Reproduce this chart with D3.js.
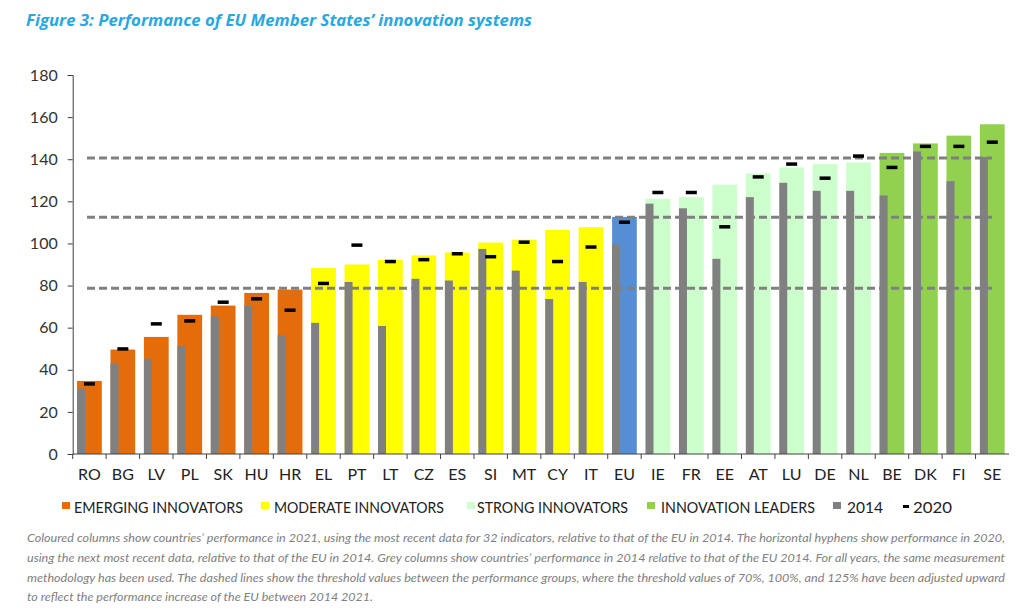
<!DOCTYPE html>
<html>
<head>
<meta charset="utf-8">
<script src="https://cdn.jsdelivr.net/npm/d3@7"></script>
<style>
  body { margin: 0; background: #fff; }
  svg { display: block; }
</style>
</head>
<body>
<div id="chart"></div>
<script>
// values (index, EU 2014 = 100)
const countries = ["RO","BG","LV","PL","SK","HU","HR","EL","PT","LT","CZ","ES","SI","MT","CY","IT","EU","IE","FR","EE","AT","LU","DE","NL","BE","DK","FI","SE"];
const groups = ["E","E","E","E","E","E","E","M","M","M","M","M","M","M","M","M","EU","S","S","S","S","S","S","S","L","L","L","L"];
const perf2021 = [34.7,49.6,55.6,66.1,70.5,76.5,78.1,88.3,90.0,92.2,94.3,95.7,100.4,101.8,106.4,107.7,112.6,121.2,122.0,127.9,133.2,136.1,137.7,138.5,143.0,147.5,151.2,156.6];
const perf2014 = [31.1,43.0,45.3,51.2,65.4,70.5,56.4,62.3,81.7,60.8,83.2,82.4,97.4,87.1,73.6,81.7,99.5,118.9,116.7,92.7,122.0,128.8,125.0,125.0,122.8,143.7,129.6,141.0];
const perf2020 = [33.3,49.9,61.8,63.2,72.1,73.7,68.3,81.0,99.2,91.4,92.3,95.1,93.7,100.6,91.4,98.3,110.1,124.2,124.2,107.9,131.6,137.7,131.0,141.5,136.1,146.1,146.1,148.1];
const thresholds = [78.75, 112.5, 140.6];
const yTicks = [0,20,40,60,80,100,120,140,160,180];

const groupColors = { E: "#E46C0A", M: "#FFFF00", S: "#CCFFCC", L: "#92D050", EU: "#558ED5" };
const legendLabels = ["EMERGING INNOVATORS","MODERATE INNOVATORS","STRONG INNOVATORS","INNOVATION LEADERS","2014","2020"];
const legendKeys = ["E","M","S","L","g","h"];

const title = "Figure 3: Performance of EU Member States\u2019 innovation systems";
const note = [
  "Coloured columns show countries\u2019 performance in 2021, using the most recent data for 32 indicators, relative to that of the EU in 2014. The horizontal hyphens show performance in 2020,",
  "using the next most recent data, relative to that of the EU in 2014. Grey columns show countries\u2019 performance in 2014 relative to that of the EU 2014. For all years, the same measurement",
  "methodology has been used. The dashed lines show the threshold values between the performance groups, where the threshold values of 70%, 100%, and 125% have been adjusted upward",
  "to reflect the performance increase of the EU between 2014 2021."
];

const W = 1024, H = 611;
const svg = d3.select("#chart").append("svg").attr("width", W).attr("height", H);

// title
svg.append("text")
  .attr("x", 26).attr("y", 26)
  .attr("textLength", 506).attr("lengthAdjust", "spacingAndGlyphs")
  .style("font-family", "'Open Sans', 'Noto Sans', sans-serif")
  .style("font-weight", "bold").style("font-style", "italic")
  .style("font-size", "16px").style("fill", "#2AA7E0")
  .text(title);

const x = d3.scaleBand().domain(countries).range([72.7, 1009]).padding(0);
const y = d3.scaleLinear().domain([0, 180]).range([454, 75]);

const barW = x.bandwidth() * 0.74;
const greyW = 8;
const dashW = 11;

// y axis
const yAxis = svg.append("g")
  .attr("transform", "translate(72.7,0)")
  .call(d3.axisLeft(y).tickValues(yTicks).tickSize(5).tickPadding(10));
yAxis.select(".domain").attr("stroke", "#404040");
yAxis.selectAll(".tick line").attr("stroke", "#404040");
yAxis.selectAll("text")
  .style("font-family", "Lato, 'Open Sans', sans-serif")
  .style("font-size", "16px").style("fill", "#333");

// coloured columns (2021)
const bx = d => x(d) + (x.bandwidth() - barW) / 2;
svg.append("g").selectAll("rect")
  .data(countries)
  .join("rect")
  .attr("x", d => bx(d))
  .attr("width", barW)
  .attr("y", (d, i) => y(perf2021[i]))
  .attr("height", (d, i) => y(0) - y(perf2021[i]))
  .attr("fill", (d, i) => groupColors[groups[i]]);

// grey columns (2014)
svg.append("g").selectAll("rect")
  .data(countries)
  .join("rect")
  .attr("x", d => bx(d))
  .attr("width", greyW)
  .attr("y", (d, i) => y(perf2014[i]))
  .attr("height", (d, i) => y(0) - y(perf2014[i]))
  .attr("fill", "#808080");

// threshold lines
svg.append("g").selectAll("line")
  .data(thresholds)
  .join("line")
  .attr("x1", 87).attr("x2", 992)
  .attr("y1", d => y(d)).attr("y2", d => y(d))
  .attr("stroke", "#808080").attr("stroke-width", 3)
  .attr("stroke-dasharray", "8,4");

// hyphens (2020)
svg.append("g").selectAll("rect")
  .data(countries)
  .join("rect")
  .attr("x", d => x(d) + x.bandwidth() / 2 - dashW / 2)
  .attr("width", dashW)
  .attr("y", (d, i) => y(perf2020[i]) - 1.75)
  .attr("height", 3.5)
  .attr("fill", "#000");

// x axis
const xg = svg.append("g");
xg.append("line")
  .attr("x1", 72.7).attr("x2", 1009)
  .attr("y1", y(0)).attr("y2", y(0))
  .attr("stroke", "#404040");
xg.selectAll(".tk")
  .data(countries)
  .join("line")
  .attr("class", "tk")
  .attr("x1", d => x(d)).attr("x2", d => x(d))
  .attr("y1", y(0)).attr("y2", y(0) + 5)
  .attr("stroke", "#404040");
xg.selectAll("text")
  .data(countries)
  .join("text")
  .attr("x", d => x(d) + x.bandwidth() / 2)
  .attr("y", 480)
  .attr("text-anchor", "middle")
  .style("font-family", "Lato, 'Open Sans', sans-serif")
  .style("font-size", "16px").style("fill", "#222")
  .text(d => d);

// legend
const legX = [62, 261, 467, 647, 833, 903];
const legTextX = [74, 274, 477, 661, 847, 913];
const legTextW = [169, 170, 151, 154, 36, 39];
const lg = svg.append("g");
legendKeys.forEach((k, i) => {
  if (k === "h") {
    lg.append("rect").attr("x", legX[i]).attr("y", 505).attr("width", 6).attr("height", 3).attr("fill", "#000");
  } else {
    lg.append("rect").attr("x", legX[i]).attr("y", 502).attr("width", 8).attr("height", 7)
      .attr("fill", k === "g" ? "#808080" : groupColors[k]);
  }
  lg.append("text")
    .attr("x", legTextX[i]).attr("y", 513)
    .attr("textLength", legTextW[i]).attr("lengthAdjust", "spacingAndGlyphs")
    .style("font-family", "Lato, 'Open Sans', sans-serif")
    .style("font-size", "16px").style("fill", "#222")
    .text(legendLabels[i]);
});

// footnote
const noteY = [542, 562, 582, 601];
note.forEach((line, i) => {
  const t = svg.append("text")
    .attr("x", 27).attr("y", noteY[i])
    .style("font-family", "Lato, 'Open Sans', sans-serif")
    .style("font-style", "italic")
    .style("font-size", "12.4px").style("fill", "#808080")
    .text(line);
  if (i < 3) t.attr("textLength", 978).attr("lengthAdjust", "spacingAndGlyphs");
  else t.attr("textLength", 346).attr("lengthAdjust", "spacingAndGlyphs");
});
</script>
</body>
</html>
